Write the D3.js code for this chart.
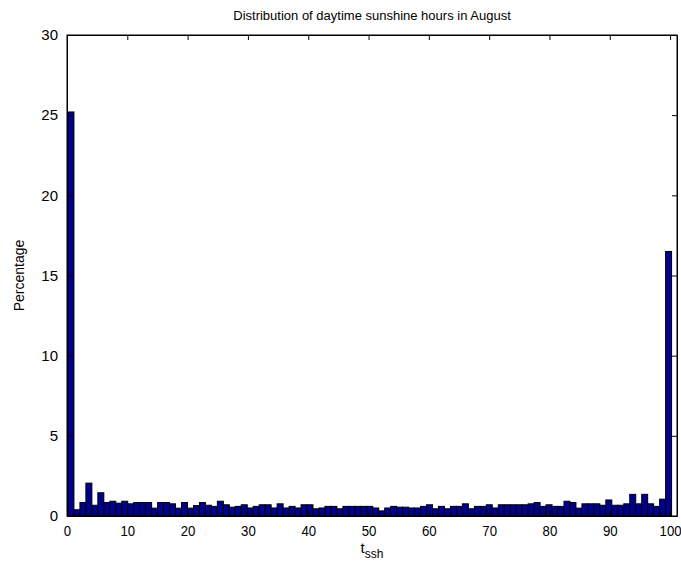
<!DOCTYPE html>
<html>
<head>
<meta charset="utf-8">
<script src="https://cdn.jsdelivr.net/npm/d3@7"></script>
<style>
  body { margin: 0; background: #fff; }
  text { font-family: "Liberation Sans", Arial, sans-serif; }
</style>
</head>
<body>
<div id="chart"></div>
<script>
// percentage of days per bin, bins 0..100
const percentages = [
  25.2, 0.39, 0.84, 2.05, 0.67, 1.45, 0.84, 0.92, 0.8, 0.92,
  0.76, 0.84, 0.84, 0.84, 0.49, 0.84, 0.84, 0.76, 0.49, 0.84,
  0.49, 0.65, 0.84, 0.67, 0.6, 0.92, 0.7, 0.55, 0.6, 0.7,
  0.5, 0.6, 0.7, 0.7, 0.5, 0.76, 0.5, 0.6, 0.5, 0.7,
  0.7, 0.45, 0.5, 0.6, 0.6, 0.45, 0.6, 0.6, 0.6, 0.6,
  0.6, 0.5, 0.32, 0.5, 0.6, 0.55, 0.55, 0.5, 0.5, 0.6,
  0.7, 0.45, 0.6, 0.45, 0.6, 0.6, 0.76, 0.45, 0.6, 0.6,
  0.7, 0.5, 0.7, 0.7, 0.7, 0.7, 0.7, 0.76, 0.84, 0.6,
  0.7, 0.6, 0.6, 0.92, 0.84, 0.49, 0.76, 0.76, 0.76, 0.67,
  1.0, 0.67, 0.67, 0.76, 1.35, 0.76, 1.35, 0.76, 0.6, 1.05,
  16.5
];
const xTicks = [0, 10, 20, 30, 40, 50, 60, 70, 80, 90, 100];
const yTicks = [0, 5, 10, 15, 20, 25, 30];

const margin = {top: 35, right: 4, bottom: 58, left: 67},
    width = 681 - margin.left - margin.right,
    height = 574 - margin.top - margin.bottom;

const svg = d3.select("#chart")
    .append("svg")
    .attr("width", 681)
    .attr("height", 574);

const g = svg.append("g")
    .attr("transform", "translate(" + margin.left + "," + margin.top + ")");

const x = d3.scaleLinear().domain([0, 101.15]).range([0, width]);
const y = d3.scaleLinear().domain([0, 30]).range([height, 0]);

// bin layout (101 bins, slightly under 1 unit wide)
const binStart = 0.16, binWidth = 0.991;

g.append("defs").append("clipPath").attr("id", "clip")
    .append("rect").attr("width", width).attr("height", height);

g.append("g").attr("clip-path", "url(#clip)")
    .selectAll("rect")
    .data(percentages)
    .enter().append("rect")
    .attr("x", (d, i) => x(binStart + i * binWidth))
    .attr("width", (d, i) => x(binStart + (i + 1) * binWidth) - x(binStart + i * binWidth))
    .attr("y", d => y(d))
    .attr("height", d => y(0) - y(d))
    .style("fill", "#00008f")
    .style("stroke", "black")
    .style("stroke-width", 1);

// axes, ticks inward, mirrored
const xAxis = d3.axisBottom(x).tickValues(xTicks).tickSizeInner(-5).tickSizeOuter(0).tickPadding(9);
const yAxis = d3.axisLeft(y).tickValues(yTicks).tickSizeInner(-5).tickSizeOuter(0).tickPadding(9);

const gx = g.append("g").attr("transform", "translate(0," + height + ")").call(xAxis);
g.append("g").call(yAxis);
g.append("g").call(d3.axisTop(x).tickValues(xTicks).tickSizeInner(-5).tickSizeOuter(0).tickFormat(""));
g.append("g").attr("transform", "translate(" + width + ",0)")
    .call(d3.axisRight(y).tickValues(yTicks).tickSizeInner(-5).tickSizeOuter(0).tickFormat(""));

g.selectAll(".tick text").style("font-size", "15px").style("fill", "#000");
// narrower digits so "100" stays inside the window
gx.selectAll(".tick text").attr("transform", "scale(0.88,1)");
g.selectAll(".domain, .tick line").style("stroke", "#000");

g.append("rect")
    .attr("width", width).attr("height", height)
    .style("fill", "none").style("stroke", "#000");

svg.append("text")
    .attr("x", margin.left + width / 2)
    .attr("y", 20)
    .attr("text-anchor", "middle")
    .style("font-size", "13px")
    .text("Distribution of daytime sunshine hours in August");

svg.append("text")
    .attr("transform", "translate(24," + (margin.top + height / 2) + ") rotate(-90)")
    .attr("text-anchor", "middle")
    .style("font-size", "14px")
    .text("Percentage");

const xl = svg.append("text")
    .attr("x", margin.left + width / 2)
    .attr("y", 553)
    .attr("text-anchor", "middle")
    .style("font-size", "15px");
xl.append("tspan").text("t");
xl.append("tspan").attr("dy", 5).style("font-size", "12px").text("ssh");
</script>
</body>
</html>
